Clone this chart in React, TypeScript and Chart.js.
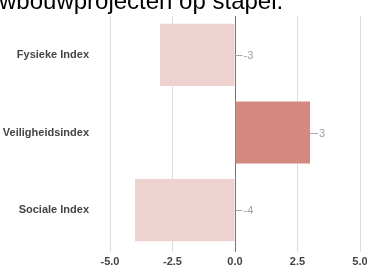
import React, { useEffect, useRef } from "react";
import { Chart, registerables } from "chart.js";

Chart.register(...registerables);

const categories = ["Fysieke Index", "Veiligheidsindex", "Sociale Index"];
const values = [-3, 3, -4];
const barColors = ["#edd2cf", "#d4887f", "#edd2cf"];
const valueLabels = ["-3", "3", "-4"];
const titleText = "wbouwprojecten op stapel.";

const leaderPlugin = {
  id: "leaders",
  afterDatasetsDraw(chart: any) {
    const ctx = chart.ctx;
    const meta = chart.getDatasetMeta(0);
    ctx.save();
    ctx.strokeStyle = "#aaaaaa";
    ctx.lineWidth = 1;
    ctx.fillStyle = "#a0a0a0";
    ctx.font = "11px Arial, 'Liberation Sans', sans-serif";
    ctx.textBaseline = "middle";
    ctx.textAlign = "left";
    meta.data.forEach((el: any, i: number) => {
      const right = Math.max(el.x, el.base);
      const y = Math.round(el.y) + 0.5;
      ctx.beginPath();
      ctx.moveTo(right, y);
      ctx.lineTo(right + 8, y);
      ctx.stroke();
      ctx.fillText(valueLabels[i], right + 9, y);
    });
    ctx.restore();
  },
};

export default function App() {
  const ref = useRef<HTMLCanvasElement | null>(null);
  useEffect(() => {
    if (!ref.current) return;
    const chart = new Chart(ref.current, {
      type: "bar",
      data: {
        labels: categories,
        datasets: [
          {
            data: values,
            backgroundColor: barColors,
            borderWidth: 0,
            barPercentage: 0.8,
            categoryPercentage: 1,
          },
        ],
      },
      options: {
        indexAxis: "y",
        animation: false,
        responsive: false,
        maintainAspectRatio: false,
        layout: { padding: { top: 16, right: 7, left: 0, bottom: 0 } },
        plugins: {
          legend: { display: false },
          tooltip: { enabled: false },
          title: { display: false },
        },
        scales: {
          x: {
            min: -5,
            max: 5,
            ticks: {
              stepSize: 2.5,
              callback: (v: any) => Number(v).toFixed(1),
              color: "#444444",
              font: { family: "Arial, 'Liberation Sans', sans-serif", size: 11, weight: "bold" },
              padding: 3,
              maxRotation: 0,
            },
            grid: {
              color: (c: any) => (c.tick && c.tick.value === 0 ? "#777777" : "#dddddd"),
              lineWidth: 1,
              tickLength: 3,
              drawTicks: true,
            },
            border: { display: false },
            afterFit: (s: any) => {
              s.height = 17;
              s.paddingLeft = 0;
              s.paddingRight = 0;
              s.paddingTop = 0;
              s.paddingBottom = 0;
            },
          },
          y: {
            ticks: {
              color: "#444444",
              font: { family: "Arial, 'Liberation Sans', sans-serif", size: 11, weight: "bold" },
              padding: 13,
            },
            grid: { display: false },
            border: { display: false },
            afterFit: (s: any) => {
              s.width = 110;
              s.paddingLeft = 0;
              s.paddingRight = 0;
              s.paddingTop = 0;
              s.paddingBottom = 0;
            },
          },
        },
      },
      plugins: [leaderPlugin],
    });
    return () => chart.destroy();
  }, []);
  return (
    <div style={{ position: "fixed", left: 0, top: 0, width: 367, height: 266, overflow: "hidden", background: "#fff" }}>
      <canvas ref={ref} width={367} height={266} style={{ position: "absolute", left: 0, top: 0 }} />
      <div
        style={{
          position: "absolute",
          left: -1,
          top: -11,
          fontFamily: "Arial, 'Liberation Sans', sans-serif",
          fontSize: 24,
          lineHeight: "24px",
          color: "#000",
          whiteSpace: "nowrap",
        }}
      >
        {titleText}
      </div>
    </div>
  );
}
